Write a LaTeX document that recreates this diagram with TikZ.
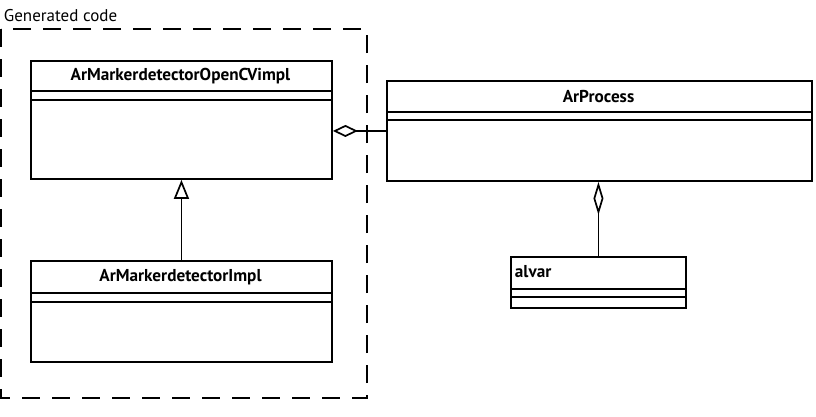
\documentclass[tikz,border=0pt]{standalone}
\usepackage{fontspec}
\setmainfont{PT Sans}
\usetikzlibrary{arrows.meta}
\begin{document}
\begin{tikzpicture}[x=1pt,y=-1pt,line width=1.9pt,
  cls/.style={draw,rectangle,anchor=north west,inner sep=0pt,fill=white},
  cname/.style={font=\bfseries\fontsize{17.2}{17}\selectfont,inner sep=0pt},
  pkg/.style={draw,line width=1.9pt,dash pattern=on 18pt off 12pt},
  gen/.style={-{Triangle[open,length=19pt,width=15pt,line width=1.7pt]}},
  agg/.style={-{Diamond[open,length=25pt,width=12pt,line width=1.7pt]}}]
\useasboundingbox (0,0) rectangle (816,416);
% package frame
\draw[pkg] (1,29) rectangle (367,398);
\node[font=\fontsize{17}{17}\selectfont,anchor=base west,inner sep=0pt] (pkglabel) at (3,21) {Generated code};
% classes
\node[cls,minimum width=301pt,minimum height=118pt] (c1) at (30,60) {};
\draw ([yshift=-31pt]c1.north west) -- ([yshift=-31pt]c1.north east);
\draw ([yshift=-40pt]c1.north west) -- ([yshift=-40pt]c1.north east);
\node[cname] (c1name) at (180.5,76) {ArMarkerdetectorOpenCVimpl};

\node[cls,minimum width=301pt,minimum height=101pt] (c2) at (30,260) {};
\draw ([yshift=-33pt]c2.north west) -- ([yshift=-33pt]c2.north east);
\draw ([yshift=-42pt]c2.north west) -- ([yshift=-42pt]c2.north east);
\node[cname] (c2name) at (180.5,277) {ArMarkerdetectorImpl};

\node[cls,minimum width=425pt,minimum height=100pt] (proc) at (386,80) {};
\draw ([yshift=-32pt]proc.north west) -- ([yshift=-32pt]proc.north east);
\draw ([yshift=-40pt]proc.north west) -- ([yshift=-40pt]proc.north east);
\node[cname] (procname) at (598.5,97) {ArProcess};

\node[cls,minimum width=175pt,minimum height=51pt] (alvar) at (510,256) {};
\draw ([yshift=-33pt]alvar.north west) -- ([yshift=-33pt]alvar.north east);
\draw ([yshift=-41pt]alvar.north west) -- ([yshift=-41pt]alvar.north east);
\node[cname,anchor=west] (alvarname) at (514,272) {alvar};
% connectors
\draw[gen] (c2.north) -- (c1.south);
\draw[agg] (proc.west) -- (c1.east |- proc.west);
\draw[agg,-{Diamond[open,length=33pt,width=10pt,line width=1.7pt]}] (alvar.north) -- (alvar.north |- proc.south);
\end{tikzpicture}
\end{document}
